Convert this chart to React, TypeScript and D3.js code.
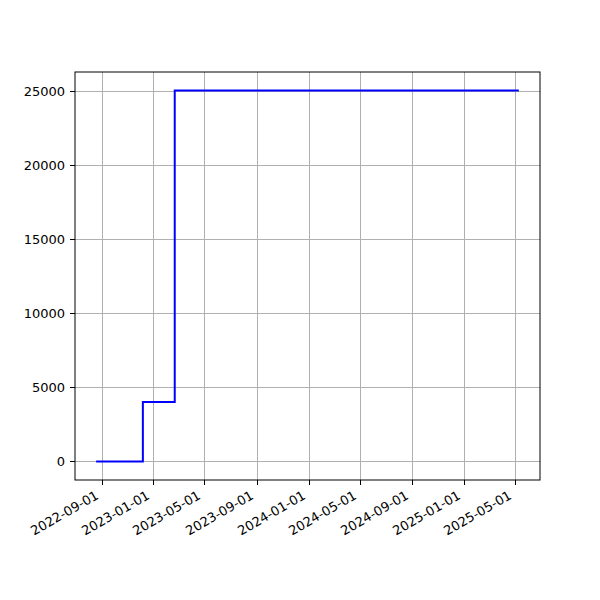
import * as d3 from 'd3'

// step data: date of each change and value from there on
const dates = ['2022-08-19', '2022-12-07', '2023-02-20', '2025-05-10']
const values = [0, 4000, 25000, 25000]
const xTicks = [
  '2022-09-01', '2023-01-01', '2023-05-01', '2023-09-01', '2024-01-01',
  '2024-05-01', '2024-09-01', '2025-01-01', '2025-05-01',
]
const yTicks = [0, 5000, 10000, 15000, 20000, 25000]

const W = 600
const H = 600
const margin = { top: 72, right: 60, bottom: 120, left: 75 }
const font = 'DejaVu Sans, sans-serif'

export default function App() {
  const parse = d3.utcParse('%Y-%m-%d')
  const pts = dates.map((d, i) => ({ date: parse(d) as Date, value: values[i] }))

  const [d0, d1] = d3.extent(pts, (d) => d.date) as [Date, Date]
  const pad = (d1.getTime() - d0.getTime()) * 0.05
  const x = d3
    .scaleUtc()
    .domain([new Date(d0.getTime() - pad), new Date(d1.getTime() + pad)])
    .range([margin.left, W - margin.right])
  const yMax = d3.max(values) || 1
  const y = d3
    .scaleLinear()
    .domain([-yMax * 0.05, yMax * 1.05])
    .range([H - margin.bottom, margin.top])

  const line = d3
    .line<{ date: Date; value: number }>()
    .x((d) => x(d.date))
    .y((d) => y(d.value))
    .curve(d3.curveStepAfter)

  const bottom = H - margin.bottom
  const left = margin.left
  const right = W - margin.right
  const top = margin.top

  return (
    <svg width={W} height={H} style={{ display: 'block', margin: -8, background: '#fff' }}>
      <rect x={0} y={0} width={W} height={H} fill="#fff" />
      {/* grid */}
      {xTicks.map((t) => {
        const xx = Math.round(x(parse(t) as Date)) + 0.5
        return <line key={t} x1={xx} x2={xx} y1={top} y2={bottom} stroke="#b0b0b0" strokeWidth={1} />
      })}
      {yTicks.map((t) => {
        const yy = Math.round(y(t)) + 0.5
        return <line key={t} x1={left} x2={right} y1={yy} y2={yy} stroke="#b0b0b0" strokeWidth={1} />
      })}
      <path d={line(pts) || ''} fill="none" stroke="#0000ff" strokeWidth={2} />
      {/* spines */}
      <rect x={left} y={top} width={right - left} height={bottom - top} fill="none" stroke="#000" strokeWidth={1} />
      {/* x ticks */}
      {xTicks.map((t) => {
        const xx = Math.round(x(parse(t) as Date)) + 0.5
        return (
          <g key={t}>
            <line x1={xx} x2={xx} y1={bottom} y2={bottom + 5} stroke="#000" />
            <text
              transform={`translate(${xx - 3},${bottom + 18}) rotate(-30)`}
              textAnchor="end"
              fontFamily={font}
              fontSize={13}
              fill="#000"
            >
              {t}
            </text>
          </g>
        )
      })}
      {yTicks.map((t) => {
        const yy = Math.round(y(t)) + 0.5
        return (
          <g key={t}>
            <line x1={left - 5} x2={left} y1={yy} y2={yy} stroke="#000" />
            <text x={left - 10} y={yy} dy="0.35em" textAnchor="end" fontFamily={font} fontSize={13} fill="#000">
              {t}
            </text>
          </g>
        )
      })}
    </svg>
  )
}
